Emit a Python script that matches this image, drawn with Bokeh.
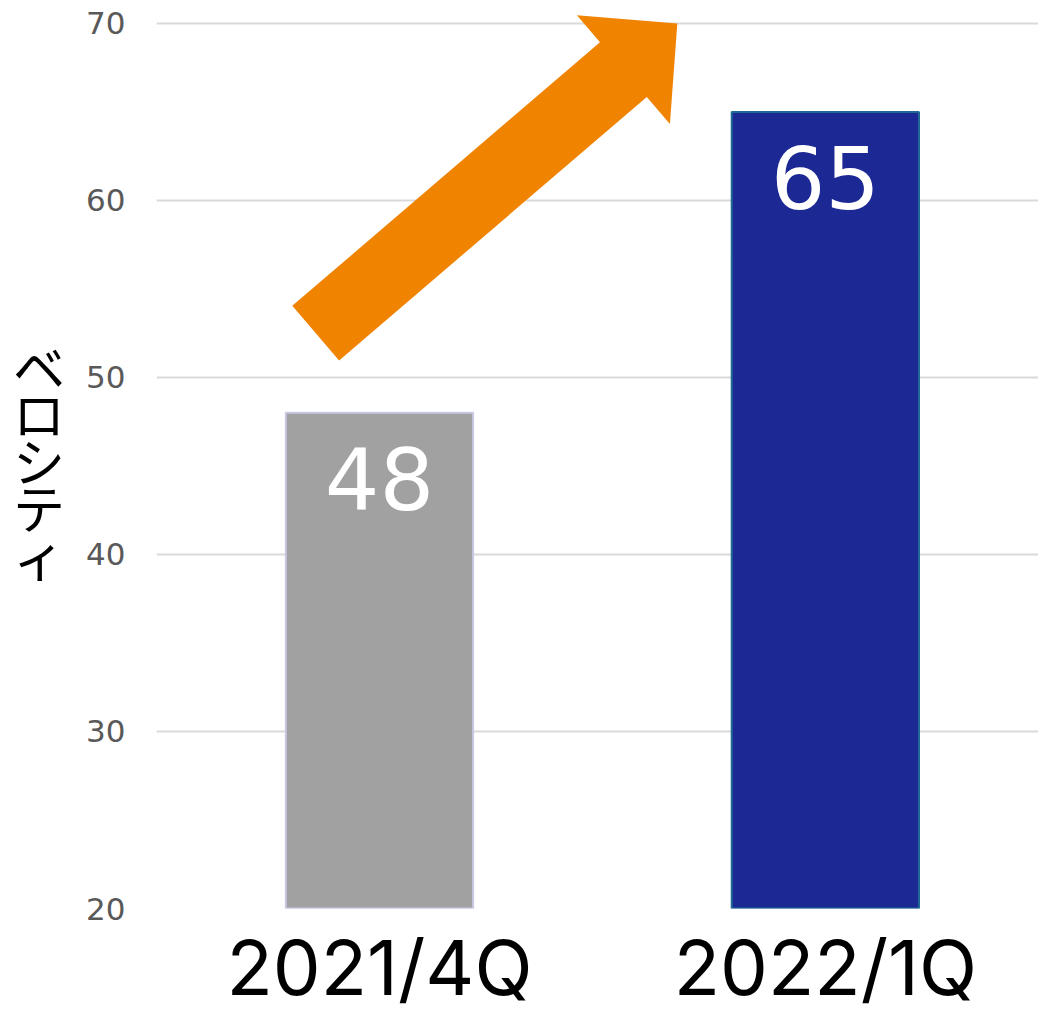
import math
from bokeh.plotting import figure
from bokeh.models import Range1d, FixedTicker, LabelSet, ColumnDataSource
from bokeh.core.properties import value
from bokeh.embed import file_html
from bokeh.resources import INLINE

# ---- data ----
quarters = ["2021/4Q", "2022/1Q"]
velocity = [48, 65]
bar_colors = ["#A0A1A0", "#1C2893"]
bar_outline = ["#C8C8E4", "#1F6A95"]
y_ticks = [20, 30, 40, 50, 60, 70]
y_label = "ベロシティ"

# decorative arrow (data coordinates): tail centre -> tip
arrow_start = (0.357, 52.5)
arrow_end = (1.168, 70.0)
ARROW_COLOR = "#F08300"
SHAFT_W, HEAD_W, HEAD_LEN = 72, 143, 71  # pixels

# ---- layout ----
FRAME_W, FRAME_H = 882, 898
X_START, X_END = 0, 1.978
Y_START, Y_END = 20, 70.73

xs = [i + 0.5 for i in range(len(quarters))]
src = ColumnDataSource(dict(x=xs, top=velocity, color=bar_colors,
                            line=bar_outline, label=[str(v) for v in velocity]))

p = figure(frame_width=FRAME_W, frame_height=FRAME_H,
           x_range=Range1d(X_START, X_END), y_range=Range1d(Y_START, Y_END),
           output_backend="svg", toolbar_location=None,
           min_border_left=156, min_border_right=0, min_border_top=10, min_border_bottom=10)
p.outline_line_color = None
p.background_fill_color = "white"
p.border_fill_color = "white"

# grid
p.xgrid.grid_line_color = None
p.ygrid.grid_line_color = "#D9D9D9"
p.ygrid.grid_line_width = 2
p.ygrid.ticker = FixedTicker(ticks=y_ticks)

# bars
p.vbar(x="x", top="top", bottom=Y_START, width=0.42, fill_color="color",
       line_color="line", line_width=2, source=src)

# arrow polygon computed in pixel space, converted back to data units
sx = FRAME_W / (X_END - X_START)
sy = FRAME_H / (Y_END - Y_START)
ax0, ay0 = (arrow_start[0] - X_START) * sx, (arrow_start[1] - Y_START) * sy
ax1, ay1 = (arrow_end[0] - X_START) * sx, (arrow_end[1] - Y_START) * sy
dx, dy = ax1 - ax0, ay1 - ay0
L = math.hypot(dx, dy)
ux, uy = dx / L, dy / L
nx, ny = -uy, ux
bx, by = ax1 - ux * HEAD_LEN, ay1 - uy * HEAD_LEN
pts = [
    (ax0 + nx * SHAFT_W / 2, ay0 + ny * SHAFT_W / 2),
    (bx + nx * SHAFT_W / 2, by + ny * SHAFT_W / 2),
    (bx + nx * HEAD_W / 2, by + ny * HEAD_W / 2),
    (ax1, ay1),
    (bx - nx * HEAD_W / 2, by - ny * HEAD_W / 2),
    (bx - nx * SHAFT_W / 2, by - ny * SHAFT_W / 2),
    (ax0 - nx * SHAFT_W / 2, ay0 - ny * SHAFT_W / 2),
]
p.patch([X_START + q[0] / sx for q in pts], [Y_START + q[1] / sy for q in pts],
        fill_color=ARROW_COLOR, line_color=None)

# value labels inside bars
p.add_layout(LabelSet(x="x", y="top", text="label", y_offset=-66, source=src,
                      text_align="center", text_baseline="middle",
                      text_color="white", text_font_size="86px",
                      text_font=value("DejaVu Sans")))

# axes
xa = p.xaxis[0]
xa.ticker = FixedTicker(ticks=xs)
xa.major_label_overrides = {x: q for x, q in zip(xs, quarters)}
xa.axis_line_color = None
xa.major_tick_line_color = None
xa.minor_tick_line_color = None
xa.major_tick_out = 0
xa.major_label_standoff = 12
xa.major_label_text_font = "Inter"
xa.major_label_text_font_size = "76px"
xa.major_label_text_color = "black"

ya = p.yaxis[0]
ya.ticker = FixedTicker(ticks=y_ticks)
ya.axis_line_color = None
ya.major_tick_line_color = None
ya.minor_tick_line_color = None
ya.major_tick_out = 0
ya.major_label_standoff = 31
ya.major_label_text_font = "DejaVu Sans"
ya.major_label_text_font_size = "31px"
ya.major_label_text_color = "#595959"

# vertical (upright stacked) axis title
ya.axis_label = "\n".join(y_label)
ya.axis_label_orientation = "horizontal"
ya.axis_label_standoff = 18
ya.axis_label_text_font = "Noto Sans CJK JP"
ya.axis_label_text_font_size = "52px"
ya.axis_label_text_font_style = "normal"
ya.axis_label_text_line_height = 0.63
ya.axis_label_text_color = "black"

open("out.html", "w").write(file_html(p, INLINE))
